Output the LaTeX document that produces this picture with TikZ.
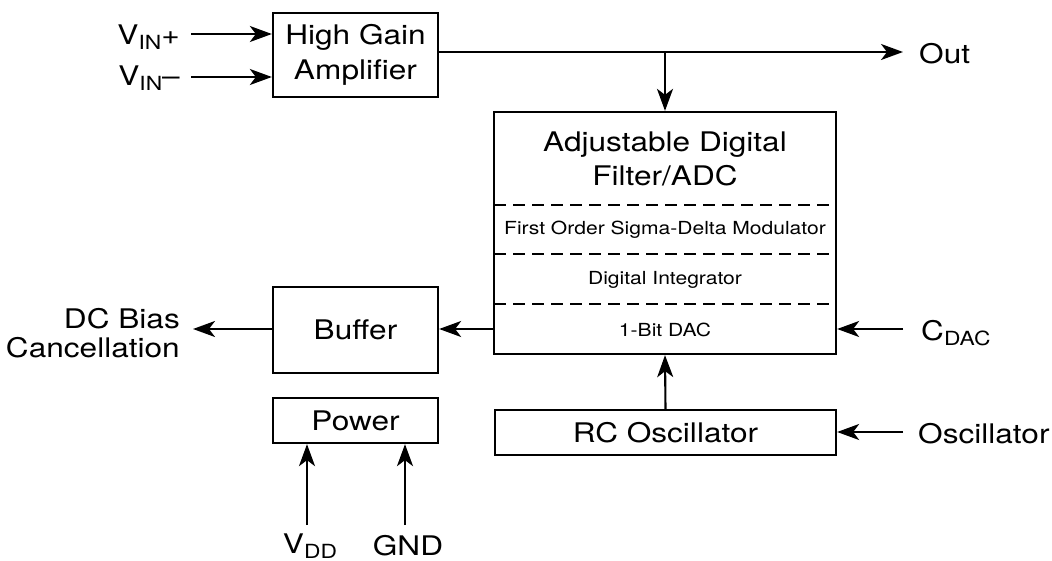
\documentclass[tikz,border=0pt]{standalone}
\usepackage{fontspec}
\setmainfont[FakeStretch=1.17]{TeX Gyre Heros}
\usetikzlibrary{arrows.meta}
\newcommand\lowsub[1]{\raisebox{-5pt}{\fontsize{19.5}{19.5}\selectfont #1}}
\tikzset{
  blk/.style={draw, line width=2.3pt, rectangle, inner sep=0pt, align=center,
    font=\fontsize{27}{35}\selectfont},
  lbl/.style={inner sep=0pt, align=center, font=\fontsize{27}{30}\selectfont},
  small/.style={inner sep=0pt, font=\fontsize{18}{20}\selectfont},
  wire/.style={line width=2.1pt},
  arr/.style={wire, -{Stealth[length=22pt,width=16pt,inset=6pt]}},
  sep/.style={line width=2.1pt, dash pattern=on 12pt off 7pt}
}
\begin{document}
\begin{tikzpicture}[x=1pt, y=-1pt]
\useasboundingbox (0,0) rectangle (1052,561);

% blocks
\node[blk, minimum width=165pt, minimum height=84pt] (amp) at (355.5,55) {High Gain\\Amplifier};
\node[blk, minimum width=342pt, minimum height=242pt] (adc) at (665,233) {};
\node[blk, minimum width=165pt, minimum height=86pt] (buf) at (355.5,330) {Buffer};
\node[blk, minimum width=165pt, minimum height=45pt] (pwr) at (355.5,420.5) {Power};
\node[blk, minimum width=341pt, minimum height=45pt] (rc) at (665.5,432.5) {RC Oscillator};

% sections of the filter/ADC block
\node[lbl, font=\fontsize{27}{34}\selectfont] (adct) at (665,159) {Adjustable Digital\\Filter/ADC};
\coordinate (d1) at (494,205);
\coordinate (d2) at (494,254);
\coordinate (d3) at (494,304);
\draw[sep] (d1) -- (d1 -| adc.east);
\draw[sep] (d2) -- (d2 -| adc.east);
\draw[sep] (d3) -- (d3 -| adc.east);
\node[small] (sdm) at (665,230) {First Order Sigma-Delta Modulator};
\node[small] (dint) at (665,280) {Digital Integrator};
\node[small] (dac) at (665,330) {1-Bit DAC};

% inputs of the amplifier
\coordinate (vinp) at (191,34);
\coordinate (vinm) at (191,77);
\node[lbl, anchor=east] (tvinp) at (180,37) {V\lowsub{IN}+};
\node[lbl, anchor=east] (tvinm) at (180,78) {V\lowsub{IN}–};
\draw[arr] (vinp) -- (vinp -| amp.west);
\draw[arr] (vinm) -- (vinm -| amp.west);

% amplifier output and branch into the filter
\coordinate (outc) at (903,52);
\coordinate (br) at (665,52);
\node[lbl, anchor=west] (tout) at (919,54) {Out};
\draw[arr] (amp.east |- outc) -- (outc);
\draw[arr] (br) -- (adc.north);

% DAC output through the buffer
\coordinate (dcb) at (193,329);
\draw[arr] (adc.west |- dcb) -- (buf.east |- dcb);
\draw[arr] (buf.west |- dcb) -- (dcb);
\node[lbl, anchor=east, align=right, font=\fontsize{27}{29}\selectfont] (tdcb) at (180,333) {DC Bias\\Cancellation};

% DAC capacitor input
\coordinate (cdac) at (903,329);
\draw[arr] (cdac) -- (cdac -| adc.east);
\node[lbl, anchor=west] (tcdac) at (921,333) {C\lowsub{DAC}};

% oscillator
\coordinate (osc) at (903,432);
\draw[arr] (osc) -- (osc -| rc.east);
\node[lbl, anchor=west] (tosc) at (918,434) {Oscillator};
\draw[arr] (rc.north) -- (adc.south);

% supply pins
\coordinate (vdd) at (307,525);
\coordinate (gnd) at (405,525);
\draw[arr] (vdd) -- (vdd |- pwr.south);
\draw[arr] (gnd) -- (gnd |- pwr.south);
\node[lbl, anchor=base] (tvdd) at (310,553) {V\lowsub{DD}};
\node[lbl, anchor=base] (tgnd) at (408,555) {GND};
\end{tikzpicture}
\end{document}
